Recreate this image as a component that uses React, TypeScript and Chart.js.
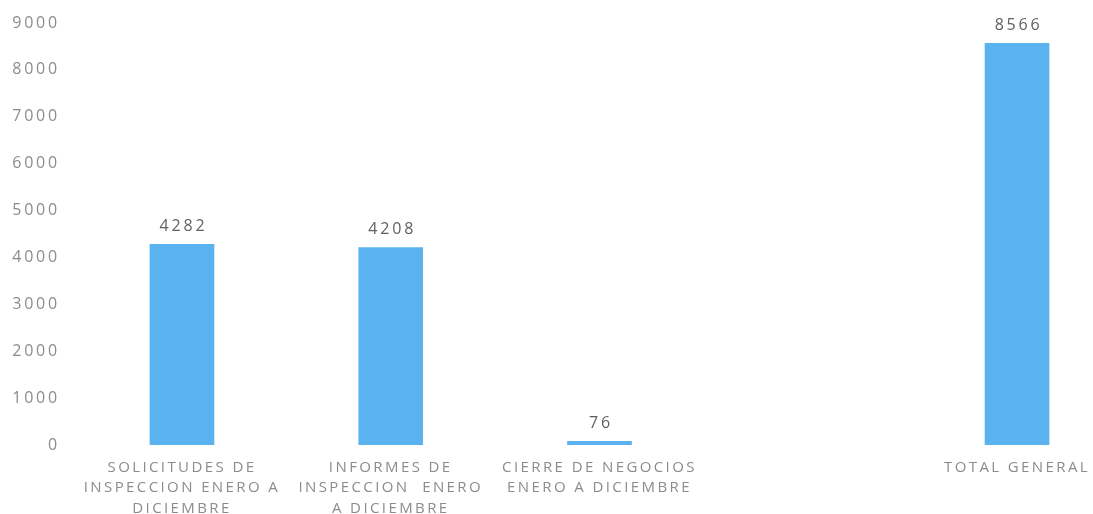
import React, { useEffect, useRef } from "react";
import { Chart, registerables } from "chart.js";

Chart.register(...registerables);

const categories: string[][] = [
  ["SOLICITUDES DE", "INSPECCION ENERO A", "DICIEMBRE"],
  ["INFORMES DE", "INSPECCION  ENERO", "A DICIEMBRE"],
  ["CIERRE DE NEGOCIOS", "ENERO A DICIEMBRE"],
  [""],
  ["TOTAL GENERAL"],
];
const values: (number | null)[] = [4282, 4208, 76, null, 8566];
const yTicks: number[] = [0, 1000, 2000, 3000, 4000, 5000, 6000, 7000, 8000, 9000];

const BAR_COLOR = "#5AB3EF";
const FONT = "'Open Sans', 'DejaVu Sans', sans-serif";
const X_SPACING = "2.4px";
const NUM_SPACING = "2.8px";

const spacing = {
  id: "spacing",
  beforeUpdate(chart: any) {
    chart.ctx.letterSpacing = X_SPACING;
  },
  beforeDraw(chart: any) {
    chart.ctx.letterSpacing = X_SPACING;
  },
};

const valueLabels = {
  id: "valueLabels",
  afterDatasetsDraw(chart: any) {
    const ctx = chart.ctx;
    const meta = chart.getDatasetMeta(0);
    ctx.save();
    ctx.letterSpacing = NUM_SPACING;
    ctx.font = `16px ${FONT}`;
    ctx.fillStyle = "#606060";
    ctx.textAlign = "center";
    ctx.textBaseline = "middle";
    meta.data.forEach((el: any, i: number) => {
      const raw = chart.data.datasets[0].data[i];
      if (!raw || raw.y == null) return;
      ctx.fillText(String(raw.y), el.x + 1.5, el.y - 18);
    });
    ctx.restore();
  },
};

const yLabels = {
  id: "yLabels",
  afterDraw(chart: any) {
    const ctx = chart.ctx;
    const y = chart.scales.y;
    ctx.save();
    ctx.letterSpacing = NUM_SPACING;
    ctx.font = `16px ${FONT}`;
    ctx.fillStyle = "#8c8c8c";
    ctx.textAlign = "right";
    ctx.textBaseline = "middle";
    yTicks.forEach((v) => {
      ctx.fillText(String(v), 60, y.getPixelForValue(v));
    });
    ctx.restore();
  },
};

export default function App() {
  const ref = useRef<HTMLCanvasElement | null>(null);
  useEffect(() => {
    if (!ref.current) return;
    const points = values
      .map((v, i) => ({ x: i, y: v }))
      .filter((p) => p.y != null);
    const chart = new Chart(ref.current, {
      type: "bar",
      data: {
        datasets: [
          {
            data: points as any,
            backgroundColor: BAR_COLOR,
            barThickness: 64,
          },
        ],
      },
      options: {
        animation: false,
        responsive: false,
        maintainAspectRatio: false,
        layout: { padding: { top: 23, right: 10, bottom: 0, left: 0 } },
        plugins: { legend: { display: false }, tooltip: { enabled: false } },
        scales: {
          x: {
            type: "linear",
            offset: false,
            min: -0.498,
            max: 4.316,
            grid: { display: false, drawTicks: false },
            border: { display: false },
            afterBuildTicks(scale: any) {
              scale.ticks = categories
                .map((_, i) => ({ value: i }))
                .filter((t) => categories[t.value].join("") !== "");
            },
            afterFit(scale: any) {
              scale.height = 69;
              scale.paddingLeft = 0;
              scale.paddingRight = 0;
            },
            ticks: {
              padding: 12,
              maxRotation: 0,
              autoSkip: false,
              color: "#8c8c8c",
              font: { family: FONT, size: 15, lineHeight: 1.37 },
              callback: (v: any) => categories[Math.round(Number(v))] ?? "",
            },
          },
          y: {
            min: 0,
            max: 9000,
            afterFit(scale: any) {
              scale.width = 78;
              scale.paddingTop = 0;
              scale.paddingBottom = 0;
            },
            afterBuildTicks(scale: any) {
              scale.ticks = yTicks.map((v) => ({ value: v }));
            },
            grid: { display: false, drawTicks: false },
            border: { display: false },
            ticks: {
              display: false,
            },
          },
        },
      },
      plugins: [spacing, valueLabels, yLabels],
    });
    return () => chart.destroy();
  }, []);
  return (
    <div style={{ position: "absolute", left: 0, top: 0, width: 1093, height: 514, background: "#fff" }}>
      <canvas ref={ref} width={1093} height={514} />
    </div>
  );
}
